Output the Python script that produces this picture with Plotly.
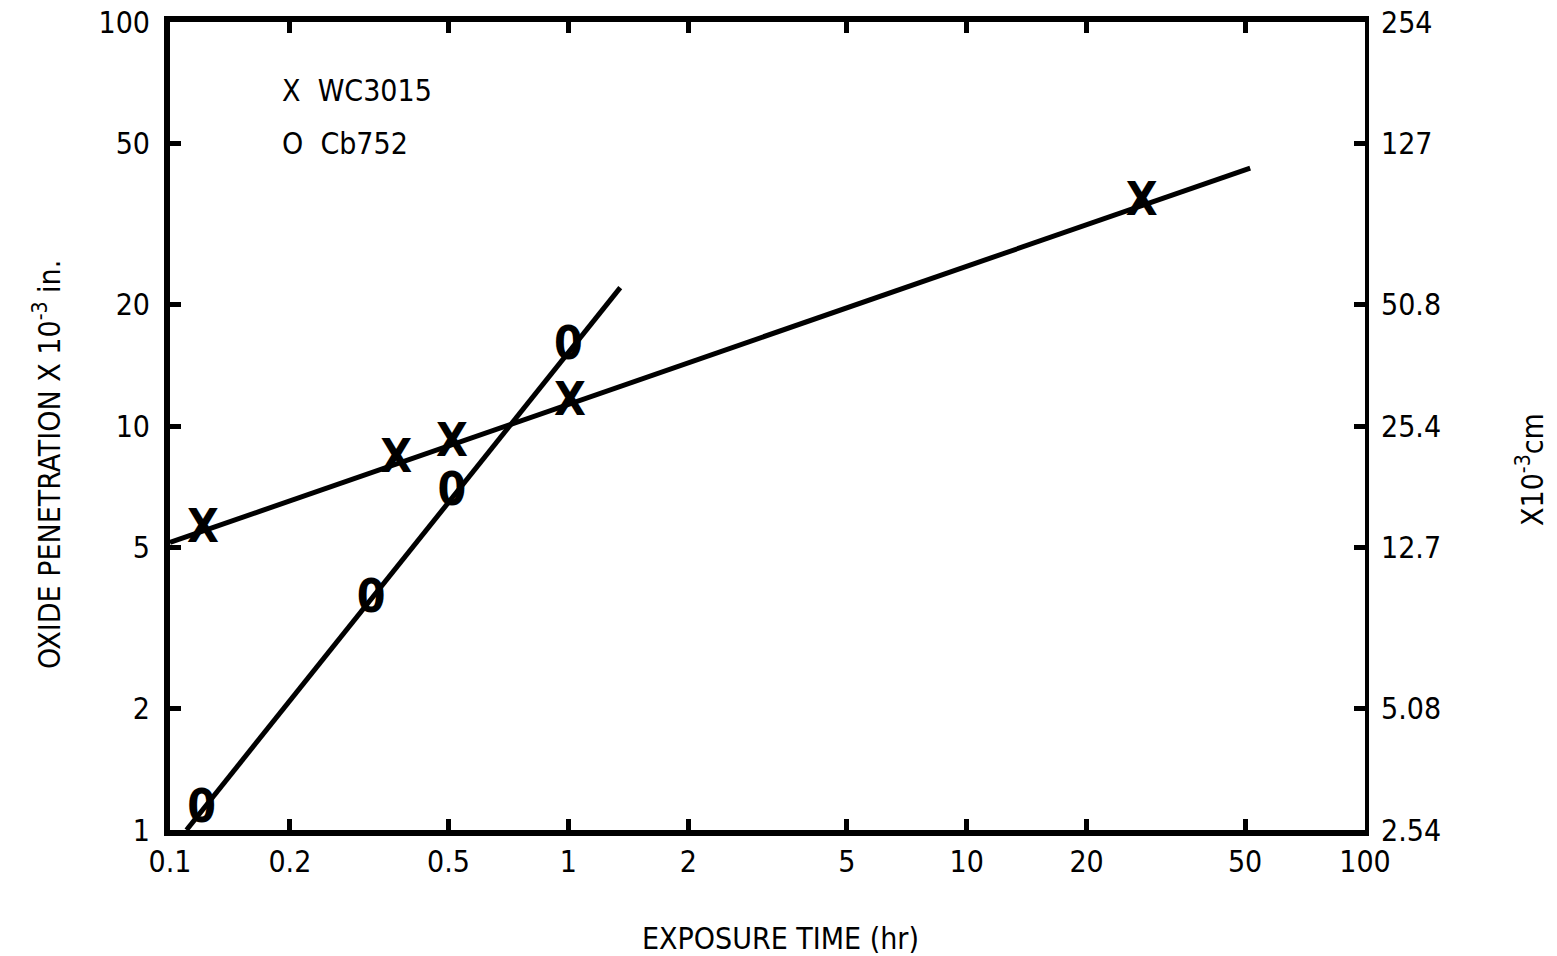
import plotly.graph_objects as go

# Data
wc_time = [0.121, 0.37, 0.51, 1.01, 27.5]
wc_pen = [5.5, 8.2, 9.0, 11.4, 35.5]
cb_time = [0.12, 0.32, 0.51, 1.0]
cb_pen = [1.12, 3.7, 6.8, 15.6]
wc_fit_time = [0.1, 51.5]
wc_fit_pen = [5.15, 43.5]
cb_fit_time = [0.11, 1.35]
cb_fit_pen = [1.0, 22.0]

x_ticks = [0.1, 0.2, 0.5, 1, 2, 5, 10, 20, 50, 100]
x_ticktext = ["0.1", "0.2", "0.5", "1", "2", "5", "10", "20", "50", "100"]
y_ticks = [1, 2, 5, 10, 20, 50, 100]
y_ticktext = ["1", "2", "5", "10", "20", "50", "100"]
y2_ticktext = ["2.54", "5.08", "12.7", "25.4", "50.8", "127", "254"]

FONT = "Liberation Sans Narrow, DejaVu Sans Condensed, Arial Narrow, sans-serif"

fig = go.Figure()
fig.add_trace(go.Scatter(x=wc_fit_time, y=wc_fit_pen, mode="lines",
                         line=dict(color="black", width=5), showlegend=False, hoverinfo="skip"))
fig.add_trace(go.Scatter(x=cb_fit_time, y=cb_fit_pen, mode="lines",
                         line=dict(color="black", width=5), showlegend=False, hoverinfo="skip"))
fig.add_trace(go.Scatter(x=wc_time, y=wc_pen, mode="text", text=["X"] * len(wc_time),
                         textposition="middle center",
                         textfont=dict(family=FONT, size=46, color="black", weight="bold"),
                         name="WC3015", showlegend=False))
fig.add_trace(go.Scatter(x=cb_time, y=cb_pen, mode="text", text=["0"] * len(cb_time),
                         textposition="middle center",
                         textfont=dict(family=FONT, size=46, color="black", weight="bold"),
                         name="Cb752", showlegend=False))
# invisible trace to anchor the right-hand (cm) axis
fig.add_trace(go.Scatter(x=[cb_time[0]], y=[cb_pen[0]], yaxis="y2", mode="markers",
                         marker=dict(opacity=0), showlegend=False, hoverinfo="skip"))

axis_common = dict(ticks="inside", ticklen=11, tickwidth=5, tickcolor="black",
                   showgrid=False, zeroline=False, automargin=False,
                   tickfont=dict(family=FONT, size=30))

fig.update_layout(
    width=1557, height=956,
    margin=dict(l=170, r=192, t=22, b=126),
    paper_bgcolor="white", plot_bgcolor="white",
    font=dict(family=FONT, size=28, color="black"),
    xaxis=dict(type="log", range=[-1, 2], tickvals=x_ticks, ticktext=x_ticktext,
               showline=True, linewidth=6, linecolor="black", mirror="ticks",
               **axis_common),
    yaxis=dict(type="log", range=[0, 2], tickvals=y_ticks, ticktext=y_ticktext,
               showline=True, linewidth=6, linecolor="black", ticklabelstandoff=8,
               **axis_common),
    yaxis2=dict(type="log", range=[0, 2], overlaying="y", side="right",
                tickvals=y_ticks, ticktext=y2_ticktext,
                showline=True, linewidth=4, linecolor="black", ticklabelstandoff=6,
                **axis_common),
    annotations=[
        dict(xref="paper", yref="paper", x=0.092, y=0.915, xanchor="left", yanchor="middle",
             text="X  WC3015", showarrow=False, font=dict(family=FONT, size=30)),
        dict(xref="paper", yref="paper", x=0.092, y=0.85, xanchor="left", yanchor="middle",
             text="O  Cb752", showarrow=False, font=dict(family=FONT, size=30)),
        dict(xref="paper", yref="paper", x=(780 - 170) / 1195, y=-(938 - 830) / 808,
             xanchor="center", yanchor="middle", showarrow=False,
             text="EXPOSURE TIME (hr)", font=dict(family=FONT, size=30)),
        dict(xref="paper", yref="paper", x=-(170 - 48) / 1195, y=(830 - 465) / 808,
             xanchor="center", yanchor="middle", showarrow=False, textangle=-90,
             text="OXIDE PENETRATION X 10<sup>-3</sup> in.", font=dict(family=FONT, size=30)),
        dict(xref="paper", yref="paper", x=1 + (1530 - 1365) / 1195, y=(830 - 470) / 808,
             xanchor="center", yanchor="middle", showarrow=False, textangle=-90,
             text="X10<sup>-3</sup>cm", font=dict(family=FONT, size=30)),
    ],
)

fig.write_html("out.html", config={"displayModeBar": False},
               post_script="document.body.style.margin='0';document.body.style.overflow='hidden';")
